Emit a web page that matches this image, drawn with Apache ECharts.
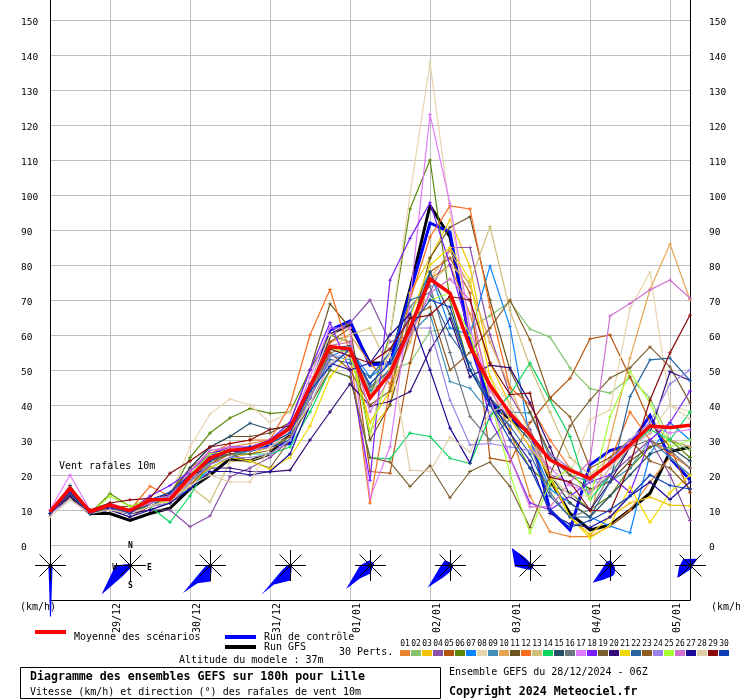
<!DOCTYPE html>
<html><head><meta charset="utf-8">
<style>html,body{margin:0;padding:0;background:#fff}#c{width:740px;height:700px}</style>
<script src="https://cdn.jsdelivr.net/npm/echarts@6/dist/echarts.min.js"></script>
</head><body><div id="c"></div>
<script>
const timeSteps=['28/12 06Z','28/12 12Z','28/12 18Z','29/12 00Z','29/12 06Z','29/12 12Z','29/12 18Z','30/12 00Z','30/12 06Z','30/12 12Z','30/12 18Z','31/12 00Z','31/12 06Z','31/12 12Z','31/12 18Z','01/01 00Z','01/01 06Z','01/01 12Z','01/01 18Z','02/01 00Z','02/01 06Z','02/01 12Z','02/01 18Z','03/01 00Z','03/01 06Z','03/01 12Z','03/01 18Z','04/01 00Z','04/01 06Z','04/01 12Z','04/01 18Z','05/01 00Z','05/01 06Z'];
const yTicks=[0,10,20,30,40,50,60,70,80,90,100,110,120,130,140,150];
const memberColors=['#e8832e','#84c36a','#f2c200','#8b4fa8','#b5530c','#5c8a08','#0a84ff','#e8d5ad','#3f8fb8','#e6a552','#6b5420','#f76b1c','#d2c07a','#0ad45f','#264e66','#6a7880','#e07aff','#7a1fff','#7d6030','#330a78','#f2da00','#28659e','#8f5c22','#9c82e8','#a6ff33','#d071d2','#1f0a9e','#e0cda8','#8a0808','#0a3db8'];
const m01=[9,15,9,11,9,12,14,20,25,28,29,30,34,46,58,60,52,46,62,76,80,66,45,33,14,3.8,2.4,2.4,5.4,10,18,25,20];
const m02=[9,16,10,12,10,12,13,18,24,26,27,28,31,43,56,55,44,50,52,61,62,62,65.5,69.5,61.7,59.4,50.6,44.7,43.4,47.7,42,30,27];
const m03=[9,15,10,11,9,11,12,17,22,25,26,28,32,44,57,58,32.4,40,72,82,92.9,79.5,52,40,30,19,8,3,8,12,13.7,11.4,11.2];
const m04=[9,15,9,10,9,10,10,5.2,8.3,19.5,22,25,30,45,60,63.4,70,58,60,72,85,85,60,43,33,20,18,15,20,25,30,20,7];
const m05=[9,15,10,11,9,12,14,18,23,27,28,29,33,46,58,62,21,20.5,52,78,82,72,24.8,23.8,35,42,47.6,58.9,60,48,35,28,15];
const m06=[9,14,9,14.7,11,13,14,25,32,36.3,39,37.6,38,50,60,58,42,60,96,110,70,50,40,32,22,17,15,10,14,22,28,30,25];
const m07=[9,15,10,11,10,12,13,16,22,25,27,28,30,42,54,56,48,52,66,78,62,60,79.7,62.4,30,16,12,8,5.4,3.5,26,35,30];
const m08=[9,14,9,10,10,12,14,28,37.4,41.7,40,35,38,46,60,62,30,60,100,137.8,95,60,48,40,30,22,20,35.7,38.6,67.6,78,40,38];
const m09=[9,15,9,10,9,11,13,19,25,27,28,30,34,44,54,53,44,48,60,66,46.7,44.8,37.7,38,37.7,25,20,18,18,22,30,25,20];
const m10=[9,15,10,11,10,12,14,19,24,27,28,30,33,45,56,55,35,44,58,76,84,74,58,45,32,20,12,8,30,53.4,73,86,70];
const m11=[9,15,9,11,10,12,15,22,28,31,31,32,35,50,68.9,62,30,40,60,82,90.8,93.8,70,50,38,26,20,16,18,24,28,30,28];
const m12=[9,16,10,11,10,16.8,14,22,26,29,30,30,40,60,73,55,12,45,70,88,96.9,96,68,45,40,30,22,18,24,38,30,26,22];
const m13=[9,15,10,11,10,13,13,16.7,12.3,23.8,24,26,30,42,56,60,62,50,62,75,80,75,91,67,51,38,25,20,25,30,35,30,28];
const m14=[9,15,9,11,10,11,6.5,14,24,26,26,26,28,38,50,48,25,24.6,32,31,24.8,23.3,36.7,43,52,41.4,31,13,20,28,33,30,38];
const m15=[9,17,9,10,10,11,14,22,28,31,34.8,33,34,46,56,57,45,50,62,78,66,50,42,36,30,20,12,8,14,20,26,28,24];
const m16=[9,15,9,10,9,11,12,18,24,26,27,28,32,44,55,56,45,50,68,74,55,36.7,30,36,28,15,8,10,20,28,30,27,22];
const m17=[10,20,10,12,10,13,14,21,27,28,28,29,33,48,62,62,13.4,28,70,123,97.6,62,44,36,28,22,17,15,22,28,34,32,33];
const m18=[9,15,10,11,10,14,17,21,26,28,28,30,35,50,63.5,50,18.5,75.7,87.6,97.8,80,60,36,25,12,10,14,18,20,15,30,35,44];
const m19=[9,14,9,10,8,11,13,20,24,26,24,22,30,40,50,48,25,23.7,16.7,22.7,13.5,21,23.7,16.7,5,20,34,41.4,47.7,50.6,56.6,50.9,40.6];
const m20=[9,14,9,10,9,10,12,20,22,22,21,20.9,21.4,30,38,46,39.7,41,43.8,55.7,64.8,48,51.4,50.6,40.6,28,13.8,10,18,28,32,49.5,47];
const m21=[9,15,10,10,9,11,13,18,22,25,24,21.7,25,34,48,55,35,44,65,80,85,75.7,48,36,28,20,8,2,5.7,16.6,6.4,15,20];
const m22=[9,15,10,11,10,12,14,20,25,26,27,28,30,42,53,52,48,55,70,72,60,52,40,34,26,14,8,8,18,42.4,52.9,53.4,47];
const m23=[9,15,10,11,11,13,13,17,23,26,26,27,31,42,55,50,40,44,65,68,50,55,62,70,58.6,42,36.6,22,25,30,24,22,16];
const m24=[9,13,9,10,9,11,12,18,23,25,25,26,30,42,54,54,42,50,62,62,41.4,28.6,29,28,27,26,22,18,24,30,35,46,50];
const m25=[9,15,9,14,11,13,12,20,26,27,27,29,32,45,56,55,32,50,62,70,72,60,42,20.4,3.4,18,22,12.9,36.7,49.5,40.6,28,30];
const m26=[9,15,10,11,10,12,14,21,27,28,27,28,32,44,57,58,38,48,60,72,76,70,42,25,10.9,10.9,18,24,65.4,69,72.9,75.7,70.5];
const m27=[9,15,9,10,8,10,12,16,21,21,20,21,26,40,52,50,52,60,66,50,33.4,23.4,42,32,24,9,6,5,8,14,18,13,18];
const m28=[8,13,9,10,9,11,13,17,20,18,18,28,32,40,52,55,42,55,21.4,21,30.8,26.6,38,40,30,20,14,14,22,28,32,40,36];
const m29=[9,15,10,12,12.9,13.3,20.5,24,28,29,30,33,34,45,56,54,52,56,64.7,65.7,71,70,52,43,43.4,19.4,18,10,9.5,23,41.4,54.9,65.7];
const m30=[9,15,9,11,9,13,15,20,24,27,28,29,32,44,51,56,46,52,62,70,68,50,40,30,22,10,5,7,10,14,20,17,16];
const members=[m01,m02,m03,m04,m05,m06,m07,m08,m09,m10,m11,m12,m13,m14,m15,m16,m17,m18,m19,m20,m21,m22,m23,m24,m25,m26,m27,m28,m29,m30];
const gfsRun=[9.5,14,9,9,7,9,10.5,16,20,24.6,24,26,32,45,60,63,52,52,73,97,88,58.6,40.5,36,32,18.6,9,4.3,5.7,10,14.8,26.6,28];
const controlRun=[9,15,9.5,10.5,9,12,14.8,19,26,27,27,28.5,29,44,61.4,64,51.4,52,72,92,89.4,57.6,40.5,36.7,32,10,4.3,22.9,27,28.6,37,24.9,18.6];
const meanRun=[9.5,16.2,9.5,11.4,9.8,12.9,13,19.5,24.8,27.1,27.4,29.5,33.4,45.2,56.7,56,42,49,62,76,72,56.7,45.7,37.6,31.4,24.3,21.4,19,23.3,28.6,34,33.6,34.2];
// wind roses: step index, then [bearing in degrees, radial value] outline
const roseSteps=[0,4,8,12,16,20,24,28,32];
const roseOutlines=[
 [[90,.6],[174,4.3],[178.4,10],[179.4,14.6],[180.6,14.6],[181.6,10],[186,4.3],[270,.6]],
 [[270,4.3],[225,11.7],[215,3.5],[180,.8],[90,.5],[0,.5]],
 [[270,1.2],[243,2.6],[225,11.1],[216,6.3],[180,4.6],[90,.4],[0,.3]],
 [[270,1],[243,2.6],[225,11.7],[221,7.2],[180,4.3],[90,.4],[0,.4]],
 [[349,1.5],[65,1.2],[130,.8],[180,2.3],[219,4.8],[226,9.7],[270,3]],
 [[311,2.2],[350,1],[90,.8],[169,1.5],[211,3.9],[226,9],[261,3.1]],
 [[313,7.3],[325,2.9],[30,.5],[75,1.1],[160,1.2],[208,1.4],[266,4.5]],
 [[310,1.5],[0,1.6],[60,.9],[110,1.3],[147,2.3],[165,3],[207,4.6],[226,7.1],[238,3.6]],
 [[312,2.8],[46,2.8],[100,.6],[163,1],[215,2.5],[227,5.2],[262,3.3]]
];
const roseLevel=-5.71, spokeLength=4.43;

const mono='"DejaVu Sans Mono","Liberation Mono",monospace';
const plus='path://M4 0H6V4H10V6H6V10H4V6H0V4H4Z';
const series=[];
[[gfsRun,'#000',3,1.5],[controlRun,'#0000ff',3,1.6]].forEach(([d,c,w,z])=>
  series.push({type:'line',data:d,symbol:'none',lineStyle:{width:w,color:c,join:'miter'},itemStyle:{color:c},z:z,silent:true}));
members.forEach((d,i)=>series.push({type:'line',name:String(i+1).padStart(2,'0'),data:d,symbol:plus,symbolSize:4,showSymbol:true,
  lineStyle:{width:1.2,color:memberColors[i]},itemStyle:{color:memberColors[i]},z:2+i/100,silent:true}));
series.push({type:'line',data:meanRun,symbol:'none',lineStyle:{width:3.5,color:'#ff0000',join:'miter'},itemStyle:{color:'#ff0000'},z:5,silent:true});
series.push({type:'custom',coordinateSystem:'cartesian2d',z:6,silent:true,clip:false,
  data:roseSteps.map((s,i)=>[s,roseLevel,i]),encode:{x:0,y:1},
  renderItem(params,api){
    const c=api.coord([api.value(0),api.value(1)]);
    const u=api.size([0,1])[1];
    const pt=(b,r)=>[c[0]+.5+Math.sin(b*Math.PI/180)*r*u,c[1]+.5-Math.cos(b*Math.PI/180)*r*u];
    const kids=[{type:'polygon',shape:{points:roseOutlines[api.value(2)].map(p=>pt(p[0],p[1]))},style:{fill:'#0000ff'}}];
    [0,45,90,135].forEach(b=>{const a=pt(b,spokeLength),e=pt(b+180,spokeLength);
      kids.push({type:'line',shape:{x1:a[0],y1:a[1],x2:e[0],y2:e[1]},style:{stroke:'#000',lineWidth:1}});});
    kids.push({type:'circle',shape:{cx:c[0]+.5,cy:c[1]+.5,r:2},style:{fill:'#000'}});
    if(api.value(2)===1){
      [['N',0,5.6],['E',90,5.4],['S',180,5.8],['W',270,4.5]].forEach(([t,b,r])=>{const p=pt(b,r);
        kids.push({type:'text',style:{text:t,x:p[0],y:p[1]+(b%180?2:0),fill:'#000',font:'bold 8px '+mono,align:'center',verticalAlign:'middle'}});});
    }
    return {type:'group',children:kids};
  }});

const txt=(t,x,y,opt={})=>({type:'text',silent:true,z:20,style:{text:t,x,y,fill:'#000',font:(opt.bold?'bold ':'')+(opt.size||10)+'px '+mono,verticalAlign:'middle',align:opt.align||'left'}});
const rect=(x,y,w,h,fill)=>({type:'rect',silent:true,z:20,shape:{x,y,width:w,height:h},style:{fill}});
const graphics=[
 txt('Vent rafales 10m',59,466),
 txt('(km/h)',20,607),txt('(km/h)',711,607),
 rect(35,630,31,4,'#ff0000'),txt('Moyenne des scénarios',74,637),
 rect(225,635,31,4,'#0000ff'),txt('Run de contrôle',264,637),
 rect(225,645,31,4,'#000'),txt('Run GFS',264,647),
 txt('30 Perts.',339,652),
 txt('Altitude du modele : 37m',179,660),
 {type:'rect',silent:true,z:20,shape:{x:20.5,y:667.5,width:420,height:31},style:{fill:'#fff',stroke:'#000',lineWidth:1}},
 txt('Diagramme des ensembles GEFS sur 180h pour Lille',30,677,{bold:true,size:11.6}),
 txt('Vitesse (km/h) et direction (°) des rafales de vent 10m',30,692),
 txt('Ensemble GEFS du 28/12/2024 - 06Z',449,672),
 txt('Copyright 2024 Meteociel.fr',449,692,{bold:true,size:11.6})
];
memberColors.forEach((c,i)=>{graphics.push(rect(400+11*i,650,10,6,c));
  graphics.push(txt(String(i+1).padStart(2,'0'),405+11*i,644,{size:8,align:'center'}));});

const yCommon={type:'value',min:-15.71,max:155.71,
  axisLine:{show:true,onZero:false,lineStyle:{color:'#000',width:1}},
  axisTick:{show:false,customValues:yTicks},
  splitLine:{show:true,lineStyle:{color:'#bebebe',width:1}}};
const yLabel=m=>({customValues:yTicks,align:'left',verticalAlign:'top',lineHeight:6,margin:m,color:'#000',fontSize:9.5,fontFamily:mono});
const chart=echarts.init(document.getElementById('c'),null,{renderer:'canvas'});
chart.setOption({
 animation:false,backgroundColor:'#fff',
 textStyle:{fontFamily:mono},
 grid:{left:50,right:50,top:0,bottom:100,containLabel:false},
 xAxis:{type:'category',boundaryGap:false,data:timeSteps,
  axisLine:{show:true,onZero:false,lineStyle:{color:'#000',width:1}},axisTick:{show:false},
  splitLine:{show:true,interval:i=>i%4===3,lineStyle:{color:'#bebebe',width:1}},
  axisLabel:{interval:i=>i%4===3,formatter:v=>v.slice(0,5),rotate:90,align:'right',verticalAlign:'top',margin:3,color:'#000',fontSize:10,fontFamily:mono,hideOverlap:false,padding:[2,0,0,0]}},
 yAxis:[
  Object.assign({},yCommon,{position:'left',axisLabel:yLabel(29)}),
  Object.assign({},yCommon,{position:'right',splitLine:{show:false},axisLabel:yLabel(19)})
 ],
 graphic:graphics,
 series:series
});
</script></body></html>
